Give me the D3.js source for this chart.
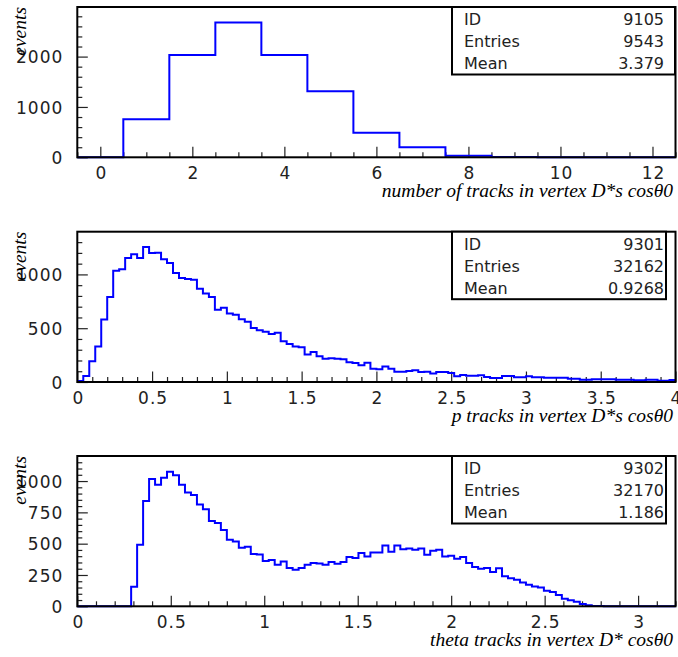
<!DOCTYPE html>
<html><head><meta charset="utf-8">
<script src="https://cdn.jsdelivr.net/npm/d3@7"></script>
<style>
html,body{margin:0;padding:0;background:#fff;}
svg{display:block;}
</style></head>
<body>
<svg id="c" width="678" height="657"></svg>
<script>
// ---- data ----
const ids = [9105, 9301, 9302];
const entries = [9543, 32162, 32170];
const means = ["3.379", "0.9268", "1.186"];
const xTitles = ["number of tracks in vertex D*s cos\u03B80", "p tracks in vertex D*s cos\u03B80", "theta tracks in vertex D* cos\u03B80"];
const yTitle = "events";

// histogram 1: 13 bins from -0.5 to 12.5
const h1Domain = [-0.5, 12.5];
const h1 = [0, 755, 2034, 2678, 2034, 1312, 490, 199, 33, 8, 1, 0, 0];
const h1XMajor = [0, 2, 4, 6, 8, 10, 12];
const h1YMajor = [0, 1000, 2000];

// histogram 2: 100 bins from 0 to 4
const h2Domain = [0, 4];
const h2 = [10,56,193,329,581,789,1034,1047,1152,1187,1152,1255,1199,1202,1140,1106,1013,966,957,950,867,823,789,671,690,637,624,584,559,503,481,466,447,457,
  379,354,329,323,255,280,239,217,221,217,211,183,177,155,180,124,118,143,124,96,96,102,109,93,96,78,93,93,84,53,65,59,
  59,62,47,37,37,56,56,43,43,53,43,43,40,40,40,40,31,31,22,22,25,25,25,25,22,22,22,16,16,22,22,12,12,19];
const h2XMajor = [0, 0.5, 1, 1.5, 2, 2.5, 3, 3.5, 4];
const h2YMajor = [0, 500, 1000];

// histogram 3: 100 bins from 0 to 3.2
const h3Domain = [0, 3.2];
const h3 = [0,0,0,0,0,0,0,0,0,
  157,491,841,1016,971,1027,1075,1046,971,908,889,812,775,682,666,610,531,518,467,475,417,414,361,369,332,
  358,305,292,305,332,345,342,332,353,340,353,393,385,425,398,430,430,486,435,486,456,462,451,462,411,443,451,398,403,380,393,345,313,
  300,305,273,303,239,223,212,191,172,159,151,125,114,90,61,48,37,19,8,3,
  2,1,1,0,0,0,0,0,0,0,0,0,0];
const h3XMajor = [0, 0.5, 1, 1.5, 2, 2.5, 3];
const h3YMajor = [0, 250, 500, 750, 1000];

// ---- layout ----
const panels = [
  {vals: h1, dom: h1Domain, ymax: 2985, xMaj: h1XMajor, xMin: 0.5, yMaj: h1YMajor, yMin: 200, top: 7, boxR: 675},
  {vals: h2, dom: h2Domain, ymax: 1397, xMaj: h2XMajor, xMin: 0.1, yMaj: h2YMajor, yMin: 100, top: 231.7, boxR: 666},
  {vals: h3, dom: h3Domain, ymax: 1200, xMaj: h3XMajor, xMin: 0.1, yMaj: h3YMajor, yMin: 50, top: 456, boxR: 666}
];
const L = 77.3, R = 675.5, PH = 150.3;
const svg = d3.select("#c");
const tickFont = "'DejaVu Sans', sans-serif";

panels.forEach((p, k) => {
  const top = p.top, bot = top + PH;
  const x = d3.scaleLinear().domain(p.dom).range([L, R]);
  const y = d3.scaleLinear().domain([0, p.ymax]).range([bot, top]);
  const g = svg.append("g");

  // minor ticks
  const eps = 1e-9;
  const xMinorVals = d3.range(Math.ceil(p.dom[0] / p.xMin - eps) * p.xMin, p.dom[1] + eps, p.xMin)
    .filter(v => !p.xMaj.some(m => Math.abs(m - v) < 1e-6));
  const yMinorVals = d3.range(p.yMin, p.ymax, p.yMin).filter(v => !p.yMaj.includes(v));

  const xMinAxis = g.append("g").attr("transform", `translate(0,${bot})`)
    .call(d3.axisBottom(x).tickValues(xMinorVals).tickSizeInner(-5).tickSizeOuter(0).tickFormat(""));
  const xMajAxis = g.append("g").attr("transform", `translate(0,${bot})`)
    .call(d3.axisBottom(x).tickValues(p.xMaj).tickSizeInner(-10.5).tickSizeOuter(0).tickFormat(d3.format("")));
  const yMinAxis = g.append("g").attr("transform", `translate(${L},0)`)
    .call(d3.axisLeft(y).tickValues(yMinorVals).tickSizeInner(-5).tickSizeOuter(0).tickFormat(""));
  const yMajAxis = g.append("g").attr("transform", `translate(${L},0)`)
    .call(d3.axisLeft(y).tickValues(p.yMaj).tickSizeInner(-10.5).tickSizeOuter(0).tickFormat(d3.format("")));

  [xMinAxis, xMajAxis, yMinAxis, yMajAxis].forEach(a => {
    a.select(".domain").remove();
    a.selectAll("line").attr("stroke", "#222").attr("stroke-width", 1.2);
  });
  xMajAxis.selectAll("text")
    .attr("y", 21.6).attr("dy", null).attr("dx", "0.5")
    .attr("font-family", tickFont).attr("font-size", 17).attr("letter-spacing", 1)
    .attr("fill", "#222");
  yMajAxis.selectAll("text")
    .attr("x", -14).attr("dy", "0.36em")
    .attr("font-family", tickFont).attr("font-size", 17).attr("letter-spacing", 1)
    .attr("fill", "#222");

  // histogram outline
  const n = p.vals.length;
  const w = (p.dom[1] - p.dom[0]) / n;
  let d = `M${x(p.dom[0])},${y(p.vals[0])}`;
  for (let i = 0; i < n; i++) {
    d += `H${x(p.dom[0] + (i + 1) * w)}`;
    if (i + 1 < n) d += `V${y(p.vals[i + 1])}`;
  }
  g.append("path").attr("d", d).attr("fill", "none")
    .attr("stroke", "#0000ff").attr("stroke-width", 2);

  // frame
  g.append("rect").attr("x", L).attr("y", top).attr("width", R - L).attr("height", PH)
    .attr("fill", "none").attr("stroke", "#000").attr("stroke-width", 2);

  // stats box
  const bx = 452, bw = p.boxR - bx, bh = 67.5;
  g.append("rect").attr("x", bx).attr("y", top).attr("width", bw).attr("height", bh)
    .attr("fill", "#fff").attr("stroke", "#000").attr("stroke-width", 2);
  const rows = [["ID", ids[k]], ["Entries", entries[k]], ["Mean", means[k]]];
  rows.forEach((r, j) => {
    const by = top + 18 + j * 22.2;
    g.append("text").attr("x", bx + 12).attr("y", by).text(r[0])
      .attr("font-family", tickFont).attr("font-size", 16).attr("fill", "#222");
    g.append("text").attr("x", 664).attr("y", by).attr("text-anchor", "end").text(r[1])
      .attr("font-family", tickFont).attr("font-size", 16).attr("fill", "#222");
  });

  // titles
  g.append("text").attr("x", 673).attr("y", bot + 40).attr("text-anchor", "end")
    .attr("font-family", "'Liberation Serif', serif").attr("font-style", "italic")
    .attr("font-size", 19.5).text(xTitles[k]);
  g.append("text").attr("transform", `translate(26,${top}) rotate(-90)`)
    .attr("text-anchor", "end")
    .attr("font-family", "'Liberation Serif', serif").attr("font-style", "italic")
    .attr("font-size", 19.5).text(yTitle);
});
</script>
</body></html>
